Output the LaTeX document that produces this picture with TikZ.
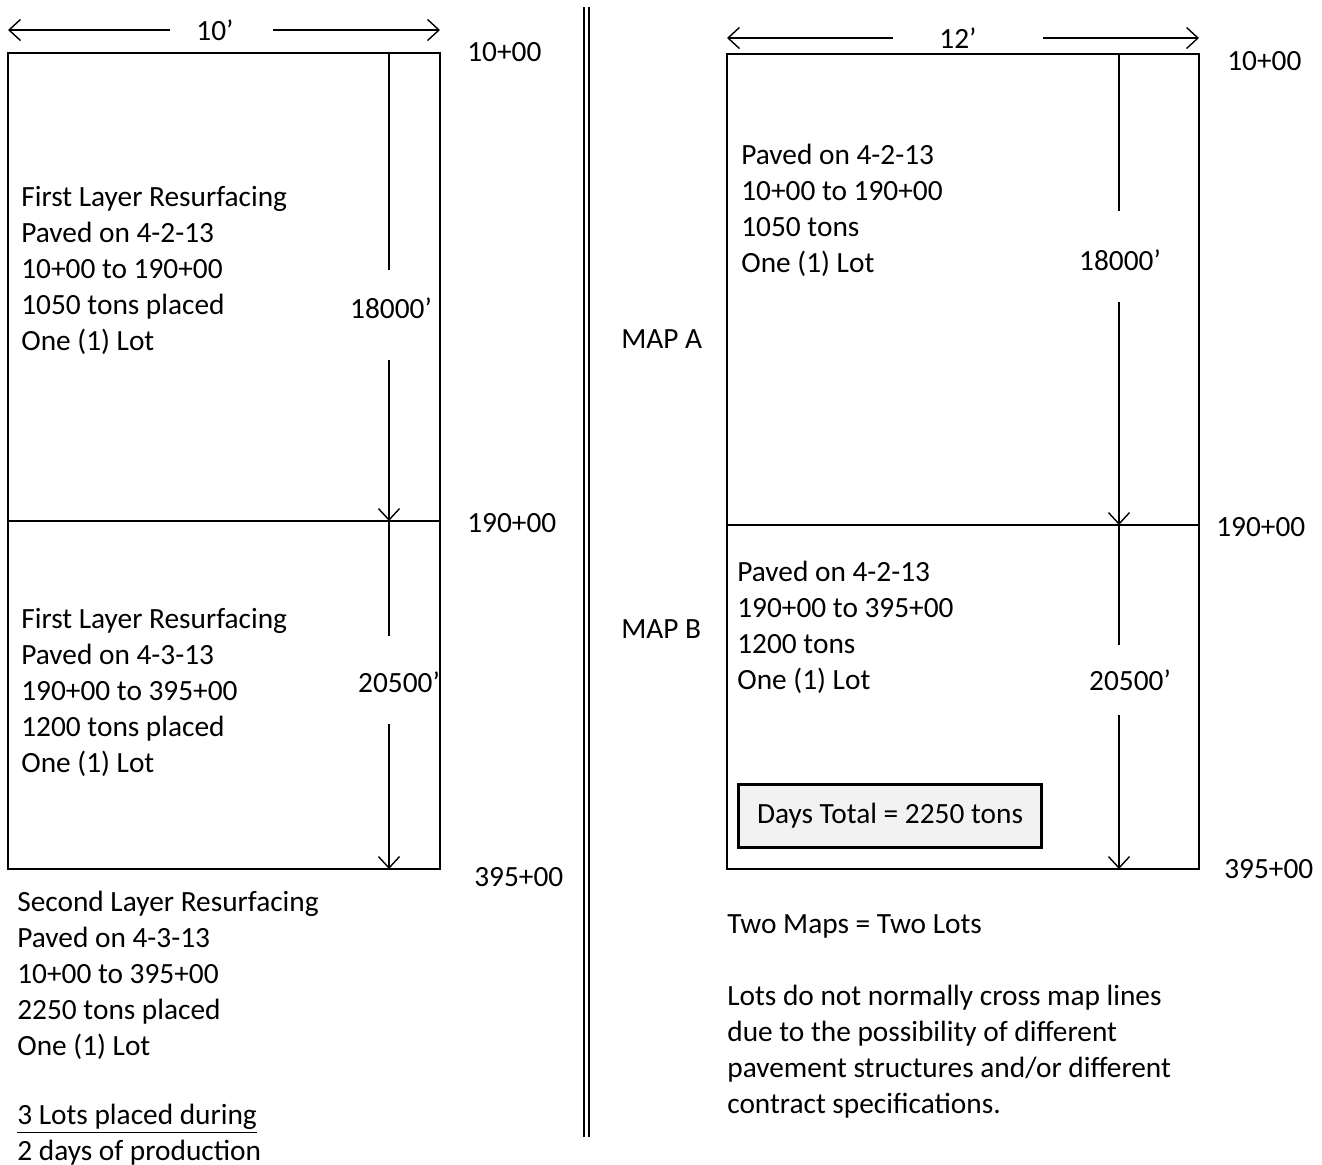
\documentclass[tikz,border=0pt]{standalone}
\usepackage{fontspec}
\setmainfont{Carlito}
\usetikzlibrary{positioning, arrows.meta}

\begin{document}
\begin{tikzpicture}[
  x=0.02cm, y=-0.02cm,
  every node/.style={font=\fontsize{16.7}{20.5}\selectfont, inner sep=0pt},
  map/.style={draw, line width=0.9pt},
  arrow/.style={-{Straight Barb[length=6.5pt, width=12pt]}, line width=0.8pt},
  dim/.style={line width=0.8pt},
  note/.style={align=left, anchor=north west},
  station/.style={anchor=west},
  divider/.style={line width=0.04cm, double distance=0.06cm},
  total/.style={draw, line width=1.5pt, fill=black!5, minimum width=6.06cm, minimum height=1.26cm}
]
\useasboundingbox (0,0) rectangle (1322,1164);

% one map, two days (left)
\coordinate (lnw) at (8,53);
\coordinate (lne) at (440,53);
\coordinate (lmw) at (8,521);
\coordinate (lme) at (440,521);
\coordinate (lsw) at (8,869);
\coordinate (lse) at (440,869);
\draw[map] (lnw) rectangle (lse);
\draw[map] (lmw) -- (lme);

\coordinate (lwl) at (8,30);
\coordinate (lwr) at (440,30);
\node (lwidth) at (215,30) {10’};
\draw[arrow] ([xshift=-0.9cm]lwidth.center) -- (lwl);
\draw[arrow] ([xshift=1.16cm]lwidth.center) -- (lwr);

\coordinate (lt) at (389,53);
\coordinate (lm) at (389,521);
\coordinate (lb) at (389,869);
\node (llen1) at (391,308) {18000’};
\node (llen2) at (399,682) {20500’};
\draw[dim, shorten >=0.54cm] (lt) -- (lt |- llen1.north);
\draw[arrow, shorten <=0.82cm] (lm |- llen1.south) -- (lm);
\draw[dim, shorten >=0.7cm] (lm) -- (lm |- llen2.north);
\draw[arrow, shorten <=0.62cm] (lb |- llen2.south) -- (lb);

\node[station] (ls1) at (467,52) {10+00};
\node[station] (ls2) at (467,523) {190+00};
\node[station] (ls3) at (474,877) {395+00};

\node[note] (lday1) at (21,186) {First Layer Resurfacing\\Paved on 4-2-13\\10+00 to 190+00\\1050 tons placed\\One (1) Lot};
\node[note] (lday2) at (21,608) {First Layer Resurfacing\\Paved on 4-3-13\\190+00 to 395+00\\1200 tons placed\\One (1) Lot};
\node[note] (lday3) at (17,891) {Second Layer Resurfacing\\Paved on 4-3-13\\10+00 to 395+00\\2250 tons placed\\One (1) Lot};
\node[note] (lsum) at (17,1104) {\underline{3 Lots placed during}\\2 days of production};

% separator
\coordinate (sept) at (586.5,7);
\coordinate (sepb) at (586.5,1137);
\draw[divider] (sept) -- (sepb);

% two maps, one day (right)
\coordinate (rnw) at (727,54);
\coordinate (rne) at (1199,54);
\coordinate (rmw) at (727,525);
\coordinate (rme) at (1199,525);
\coordinate (rsw) at (727,869);
\coordinate (rse) at (1199,869);
\draw[map] (rnw) rectangle (rse);
\draw[map] (rmw) -- (rme);

\coordinate (rwl) at (727,38);
\coordinate (rwr) at (1199,38);
\node (rwidth) at (958,38) {12’};
\draw[arrow] ([xshift=-1.3cm]rwidth.center) -- (rwl);
\draw[arrow] ([xshift=1.7cm]rwidth.center) -- (rwr);

\coordinate (rt) at (1119,54);
\coordinate (rm) at (1119,525);
\coordinate (rb) at (1119,869);
\node (rlen1) at (1120,260) {18000’};
\node (rlen2) at (1130,680) {20500’};
\draw[dim, shorten >=0.76cm] (rt) -- (rt |- rlen1.north);
\draw[arrow, shorten <=0.62cm] (rm |- rlen1.south) -- (rm);
\draw[dim, shorten >=0.48cm] (rm) -- (rm |- rlen2.north);
\draw[arrow, shorten <=0.48cm] (rb |- rlen2.south) -- (rb);

\node[station] (rs1) at (1227,61) {10+00};
\node[station] (rs2) at (1216,527) {190+00};
\node[station] (rs3) at (1224,869) {395+00};

\node[station] (mapa) at (621,339) {MAP A};
\node[station] (mapb) at (621,629) {MAP B};

\node[note] (rday1) at (741,144) {Paved on 4-2-13\\10+00 to 190+00\\1050 tons\\One (1) Lot};
\node[note] (rday2) at (737,561) {Paved on 4-2-13\\190+00 to 395+00\\1200 tons\\One (1) Lot};
\node[total] (daytotal) at (890,816) {Days Total = 2250 tons};

\node[note] (rsum) at (727,914) {Two Maps = Two Lots};
\node[note] (rwhy) at (727,985) {Lots do not normally cross map lines\\due to the possibility of different\\pavement structures and/or different\\contract specifications.};

\end{tikzpicture}
\end{document}
